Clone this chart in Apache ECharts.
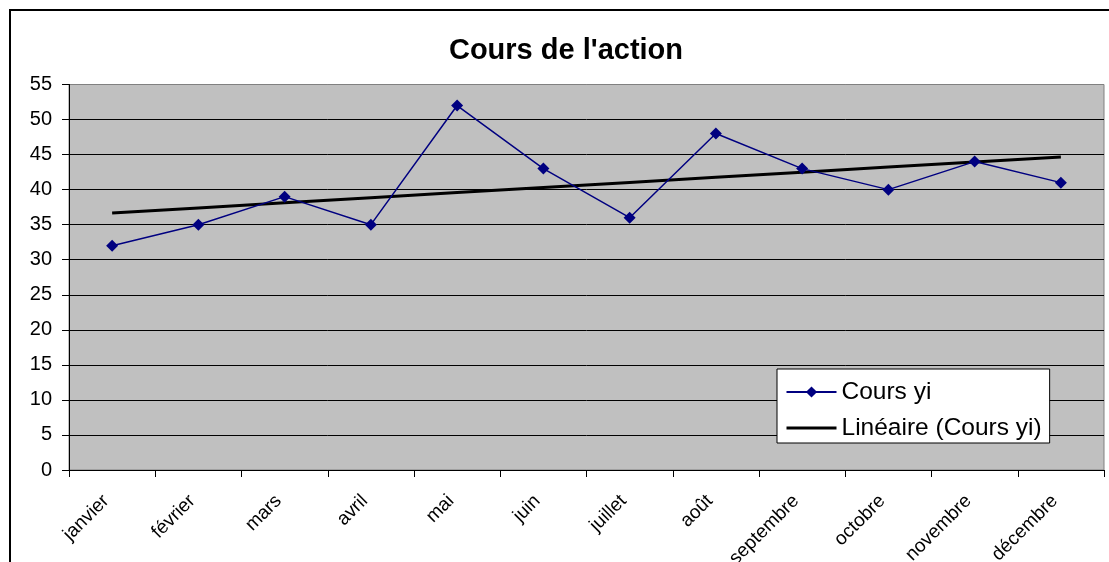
<!DOCTYPE html>
<html><head><meta charset="utf-8">
<script src="https://cdn.jsdelivr.net/npm/echarts@6/dist/echarts.min.js"></script>
<style>html,body{margin:0;padding:0;background:#fff}#c{width:1109px;height:562px}</style>
</head><body><div id="c"></div>
<script>
const titleText = "Cours de l'action";
const months = ['janvier','février','mars','avril','mai','juin','juillet','août','septembre','octobre','novembre','décembre'];
const cours = [32,35,39,35,52,43,36,48,43,40,44,41];
const yTicks = {min:0, max:55, interval:5};
const seriesNames = ['Cours yi','Linéaire (Cours yi)'];

// linear least-squares trend (like Excel "Linéaire")
function linearTrend(ys){
  const n = ys.length; let sx=0, sy=0, sxy=0, sxx=0;
  ys.forEach((y,i)=>{const x=i+1; sx+=x; sy+=y; sxy+=x*y; sxx+=x*x;});
  const b=(n*sxy-sx*sy)/(n*sxx-sx*sx), a=(sy-b*sx)/n;
  return ys.map((_,i)=>a+b*(i+1));
}
const trend = linearTrend(cours);

const FONT = 'Arial, "Liberation Sans", sans-serif';
const splitColors = [];
for (let v=yTicks.min; v<=yTicks.max; v+=yTicks.interval) splitColors.push(v===yTicks.max ? '#808080' : '#000000');

const chart = echarts.init(document.getElementById('c'), null, {renderer:'canvas'});
chart.setOption({
  animation:false,
  backgroundColor:'#ffffff',
  textStyle:{fontFamily:FONT},
  title:{text:titleText, left:561, textAlign:'center', top:31,
    textStyle:{fontFamily:FONT, fontSize:29, fontWeight:'bold', color:'#000'}},
  graphic:[{type:'rect', shape:{x:10,y:10,width:1300,height:800}, style:{fill:'none', stroke:'#000', lineWidth:2}, z:-10}],
  grid:{left:69, right:5, top:84.5, bottom:92, show:true, backgroundColor:'#C0C0C0', borderColor:'#808080', borderWidth:1,
    containLabel:false, outerBoundsMode:'none'},
  legend:{
    orient:'vertical', left:777, top:369,
    backgroundColor:'#fff', borderColor:'#000', borderWidth:1,
    padding:[9,8,1,8], itemGap:8, itemWidth:50, itemHeight:14,
    textStyle:{fontFamily:FONT, fontSize:24.5, color:'#000', lineHeight:28},
    data:[
      {name:seriesNames[0]},
      {name:seriesNames[1], itemStyle:{opacity:0}, lineStyle:{width:3, color:'#000'}}
    ]
  },
  xAxis:{type:'category', data:months, boundaryGap:true,
    axisLine:{lineStyle:{color:'#000', width:1}},
    axisTick:{show:true, length:7, lineStyle:{color:'#000'}},
    axisLabel:{rotate:45, fontSize:19, color:'#000', fontFamily:FONT, margin:22, interval:0, padding:[0,8.5,0,0]},
    splitLine:{show:false}},
  yAxis:{type:'value', min:yTicks.min, max:yTicks.max, interval:yTicks.interval,
    axisLine:{show:true, lineStyle:{color:'#000', width:1}},
    axisTick:{show:true, length:7, lineStyle:{color:'#000'}},
    axisLabel:{fontSize:20, color:'#000', fontFamily:FONT, margin:17},
    splitLine:{show:true, lineStyle:{color:splitColors, width:1}}},
  series:[
    {name:seriesNames[0], type:'line', data:cours, symbol:'diamond', symbolSize:12,
      lineStyle:{color:'#000080', width:1.5}, itemStyle:{color:'#000080'}, z:3},
    {name:seriesNames[1], type:'line', data:trend, symbol:'none',
      lineStyle:{color:'#000', width:3}, itemStyle:{color:'#000'}, z:2}
  ]
});
</script></body></html>
